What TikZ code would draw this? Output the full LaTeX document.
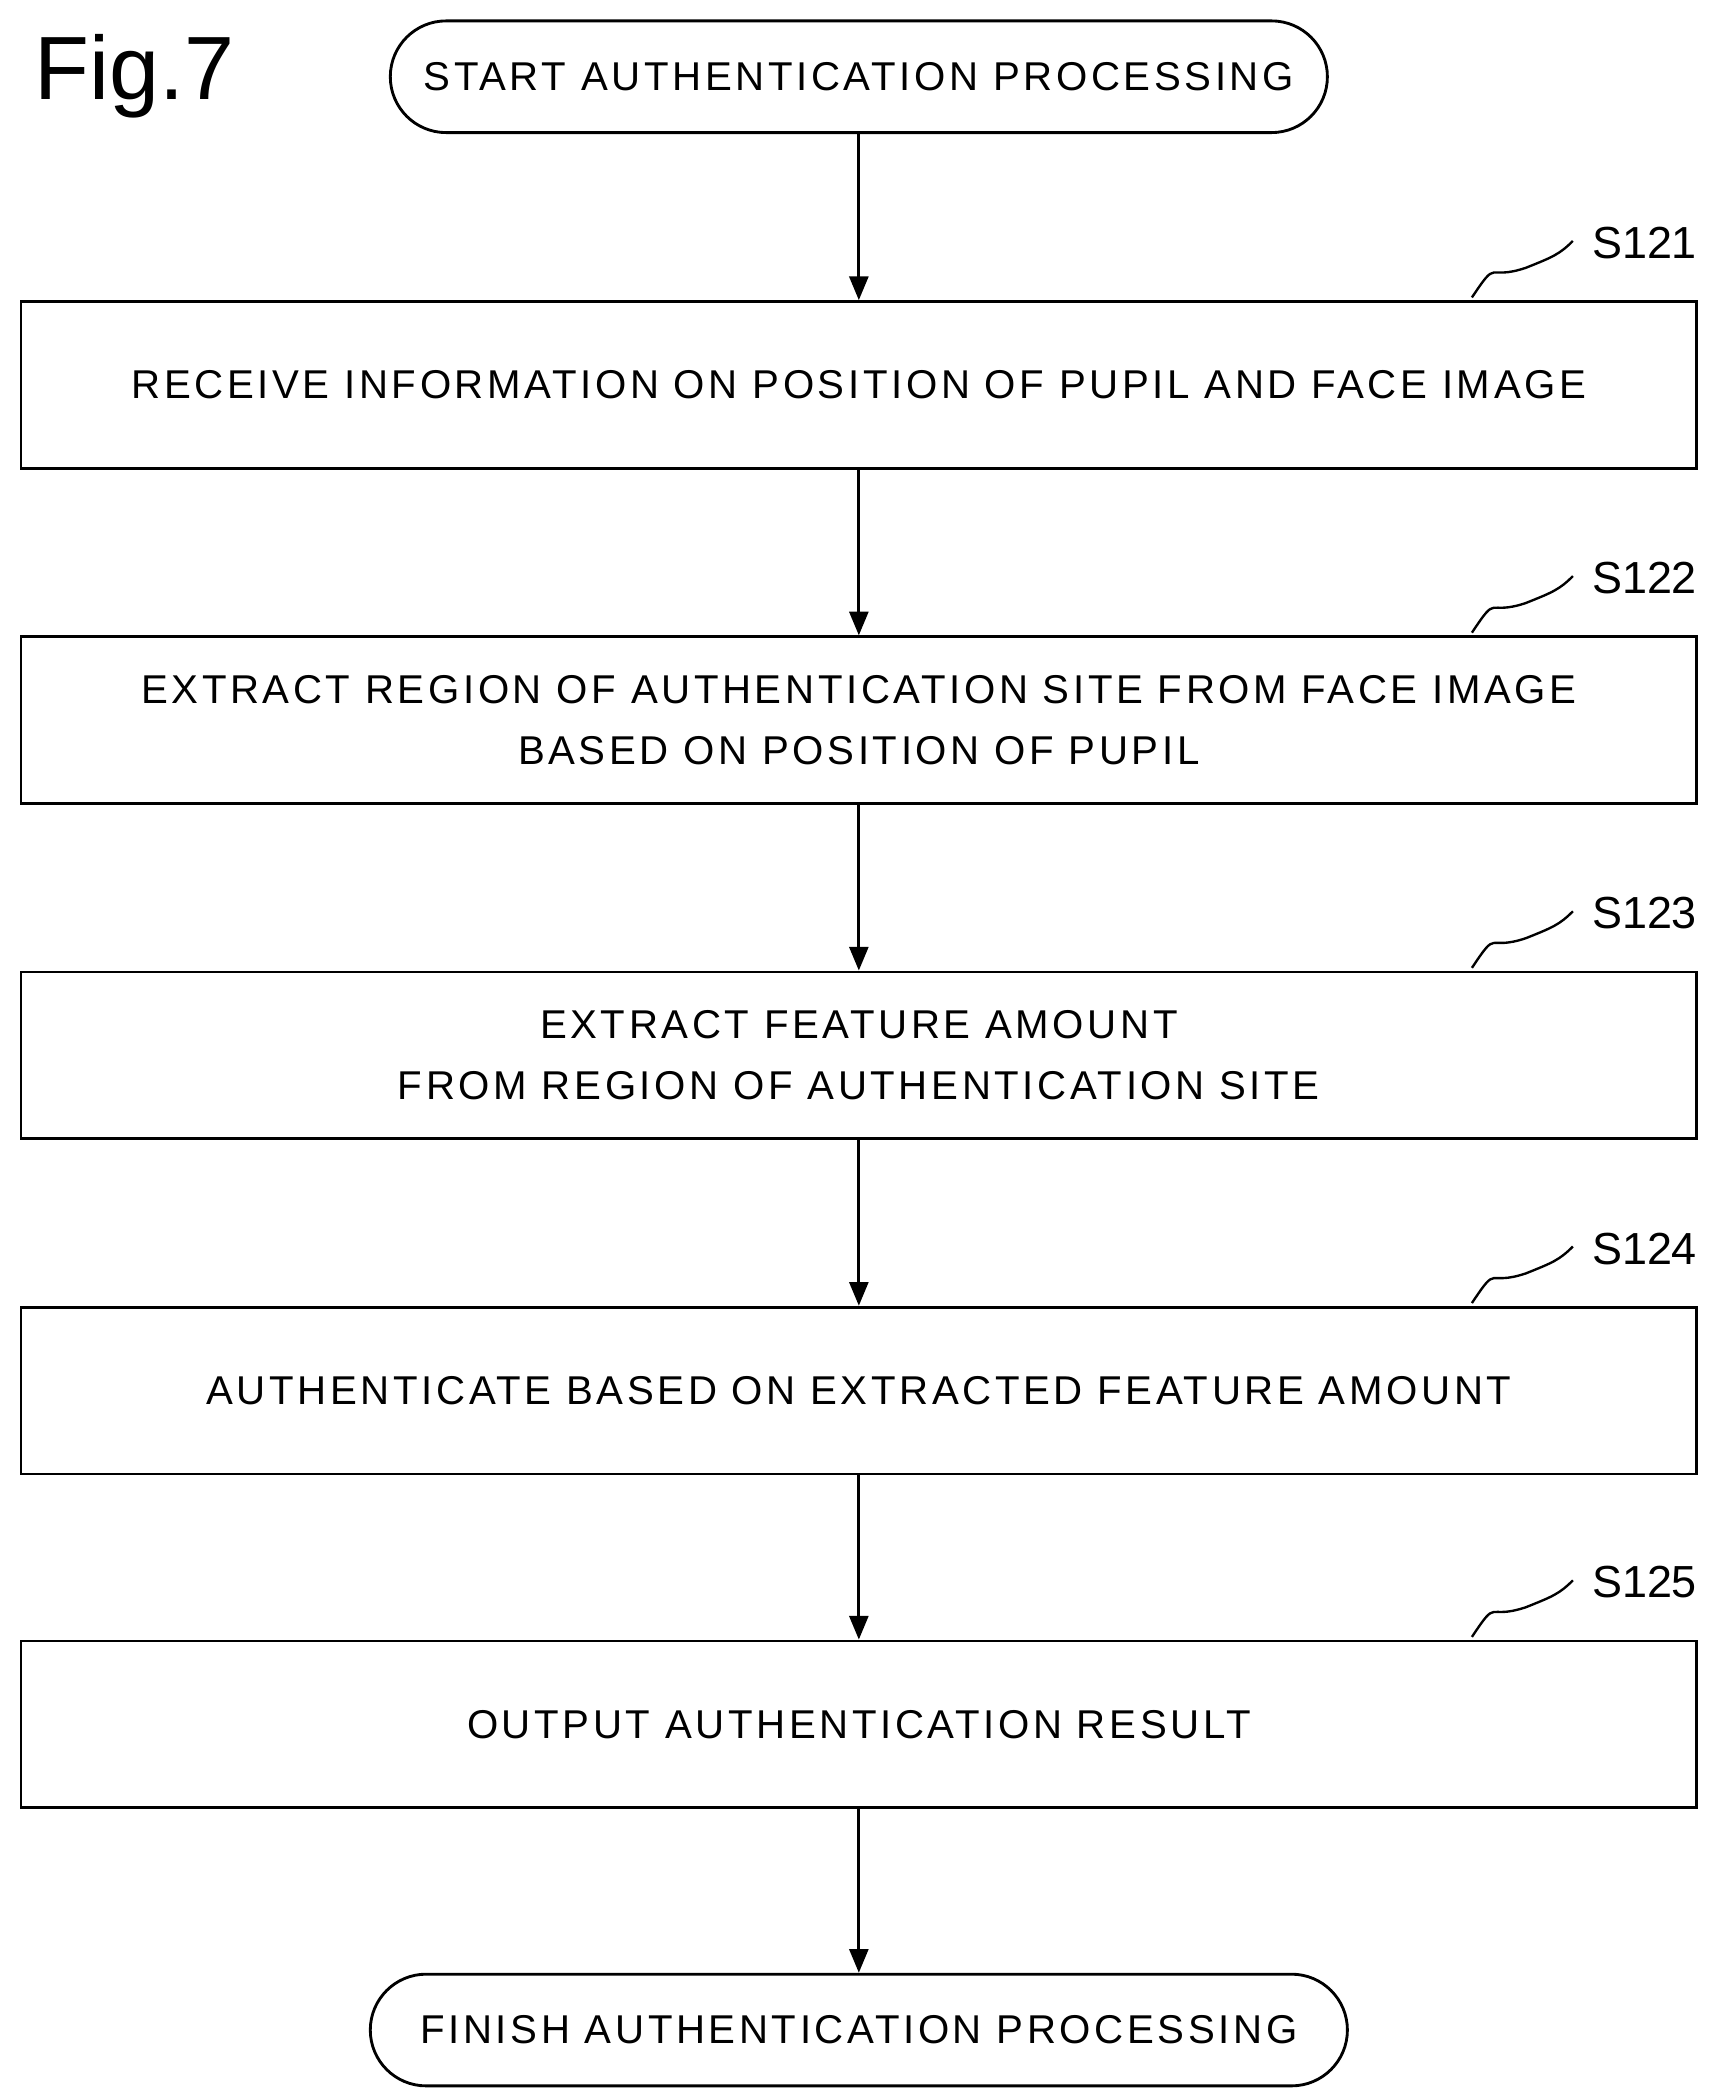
\documentclass[tikz,border=0pt]{standalone}
\usepackage{fontspec}
\setmainfont{Liberation Sans}
\newfontfamily\spaced[LetterSpace=9]{Liberation Sans}
\usetikzlibrary{arrows.meta,positioning}
\tikzset{x=0.02cm,y=-0.02cm,
    box/.style={draw,line width=1.2pt,minimum width=24.9cm,minimum height=2.48cm,align=center,font=\spaced\fontsize{17}{26}\selectfont},
    term/.style={draw,line width=1.2pt,rounded corners=0.83cm,minimum height=1.66cm,inner xsep=0.5cm,font=\spaced\fontsize{17}{20}\selectfont},
    flow/.style={draw,line width=1.2pt,-{Triangle[length=10pt,width=8pt]}},
    tag/.style={font=\fontsize{19}{20}\selectfont,anchor=west}}
\newcommand{\steptag}[3]{%
  \draw[line width=1pt] (#1.north east)++(-168,-2) .. controls ++(20,-30) and ++(-30,10) .. ++(40,-22) .. controls ++(20,-8) and ++(-10,10) .. ++(35,-20);
  \node[tag] (#2) at ([xshift=-1.7cm,yshift=0.85cm]#1.north east) {#3};}
\begin{document}
\begin{tikzpicture}
\useasboundingbox (0,0) rectangle (1280,1560);
\node[font=\fontsize{38}{42}\selectfont] (fig) at (100,57) {Fig.7};
\node[term,minimum width=13.46cm] (start) at (638,57) {START AUTHENTICATION PROCESSING};
\node[box] (s1) at (638,286) {RECEIVE INFORMATION ON POSITION OF PUPIL AND FACE IMAGE};
\node[box] (s2) at (638,535) {EXTRACT REGION OF AUTHENTICATION SITE FROM FACE IMAGE\\BASED ON POSITION OF PUPIL};
\node[box] (s3) at (638,784) {EXTRACT FEATURE AMOUNT\\FROM REGION OF AUTHENTICATION SITE};
\node[box] (s4) at (638,1033) {AUTHENTICATE BASED ON EXTRACTED FEATURE AMOUNT};
\node[box] (s5) at (638,1281) {OUTPUT AUTHENTICATION RESULT};
\node[term,minimum width=14.52cm] (finish) at (638,1508) {FINISH AUTHENTICATION PROCESSING};
\steptag{s1}{t1}{S121}
\steptag{s2}{t2}{S122}
\steptag{s3}{t3}{S123}
\steptag{s4}{t4}{S124}
\steptag{s5}{t5}{S125}
\draw[flow] (start) -- (s1);
\draw[flow] (s1) -- (s2);
\draw[flow] (s2) -- (s3);
\draw[flow] (s3) -- (s4);
\draw[flow] (s4) -- (s5);
\draw[flow] (s5) -- (finish);
\end{tikzpicture}
\end{document}
